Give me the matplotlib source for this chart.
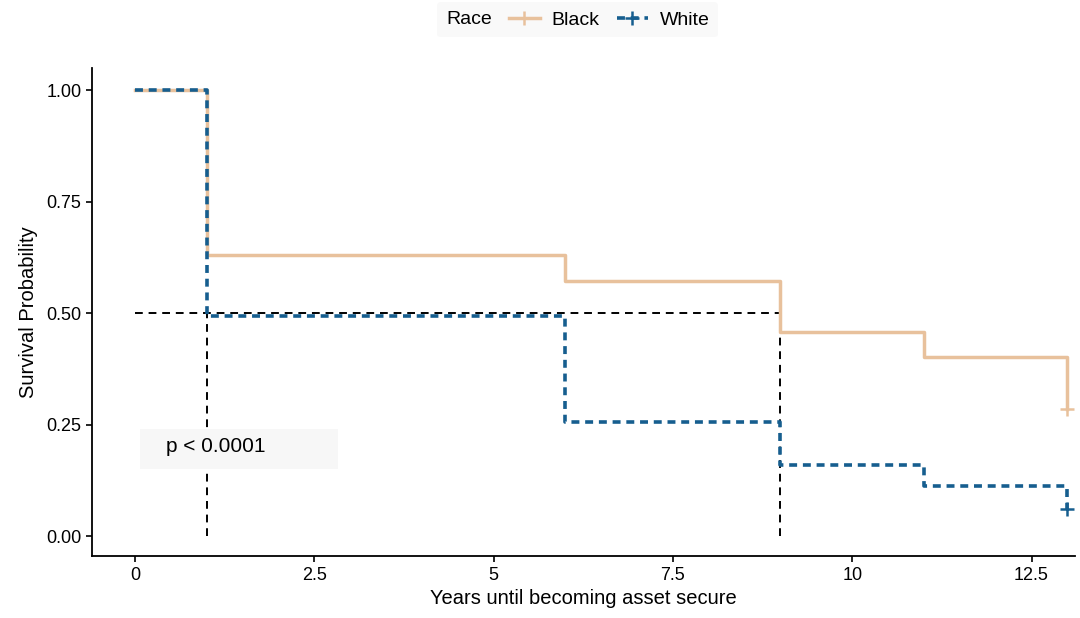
import matplotlib.pyplot as plt
from matplotlib.lines import Line2D
from matplotlib.patches import Rectangle
from matplotlib.offsetbox import HPacker

plt.rcParams['font.family'] = ['Liberation Sans', 'DejaVu Sans']

# Kaplan-Meier step data (time, survival)
black_t = [0, 1, 6, 9, 11, 13]
black_s = [1.00, 0.630, 0.572, 0.457, 0.401, 0.285]
white_t = [0, 1, 6, 9, 11, 13]
white_s = [1.00, 0.493, 0.256, 0.159, 0.112, 0.061]
medians = [1, 9]
xticks = [0, 2.5, 5, 7.5, 10, 12.5]
xlabels = ["0", "2.5", "5", "7.5", "10", "12.5"]
yticks = [0, 0.25, 0.5, 0.75, 1.0]
ylabels = ["0.00", "0.25", "0.50", "0.75", "1.00"]

tan = '#E8C19C'
blue = '#165E8F'

fig = plt.figure(figsize=(10.8, 6.18), dpi=100)
ax = fig.add_axes([0.085, 0.1, 0.91, 0.79])

# step curves
ax.step(black_t, black_s, where='post', color=tan, lw=2.5, zorder=3)
ax.step(white_t, white_s, where='post', color=blue, lw=2.6, ls=(0, (2.2, 1.6)), zorder=4)
# censor marks at the end
ax.plot(black_t[-1], black_s[-1], marker='+', color=tan, ms=10, mew=1.8, zorder=5)
ax.plot(white_t[-1], white_s[-1], marker='+', color=blue, ms=10, mew=1.8, zorder=5)

# median survival lines
ax.plot([0, max(medians)], [0.5, 0.5], color='black', ls=(0, (4, 3)), lw=1.4, zorder=2)
for m in medians:
    ax.plot([m, m], [0, 0.5], color='black', ls=(0, (4, 3)), lw=1.4, zorder=2)

# p-value label on a light box
ax.add_patch(Rectangle((0.07, 0.15), 2.76, 0.09, facecolor='#F7F7F7',
                       edgecolor='none', zorder=2.5))
ax.text(0.43, 0.2, "p < 0.0001", fontsize=15, va='center', ha='left', zorder=2.6)

ax.set_xlim(-0.6, 13.1)
ax.set_ylim(-0.045, 1.05)
ax.set_xticks(xticks)
ax.set_xticklabels(xlabels)
ax.set_yticks(yticks)
ax.set_yticklabels(ylabels)
ax.tick_params(labelsize=13, length=4, width=1.2, colors='black')
ax.set_xlabel("Years until becoming asset secure", fontsize=14.5, labelpad=4)
ax.set_ylabel("Survival Probability", fontsize=14.5, labelpad=6)
for s in ['top', 'right']:
    ax.spines[s].set_visible(False)
for s in ['left', 'bottom']:
    ax.spines[s].set_linewidth(1.3)

handles = [Line2D([0], [0], color=tan, lw=2.5, marker='+', ms=10, mew=1.8),
           Line2D([0], [0], color=blue, lw=2.6, ls=(0, (2.2, 1.6)), marker='+', ms=10, mew=1.8)]
leg = fig.legend(handles, ["Black", "White"], title="Race", loc='upper center',
                 bbox_to_anchor=(0.535, 1.012), ncol=2, frameon=True, fontsize=14,
                 title_fontsize=14, handlelength=1.6, columnspacing=0.9,
                 handletextpad=0.6, borderpad=0.45)
leg.get_frame().set_facecolor('#F8F8F8')
leg.get_frame().set_edgecolor('none')
# put title inline on the left
title_box = leg._legend_title_box
handle_box = leg._legend_handle_box
leg._legend_box._children = [HPacker(children=[title_box, handle_box], pad=0, sep=12, align='center')]

fig.savefig('out.png', dpi=100, facecolor='white')
